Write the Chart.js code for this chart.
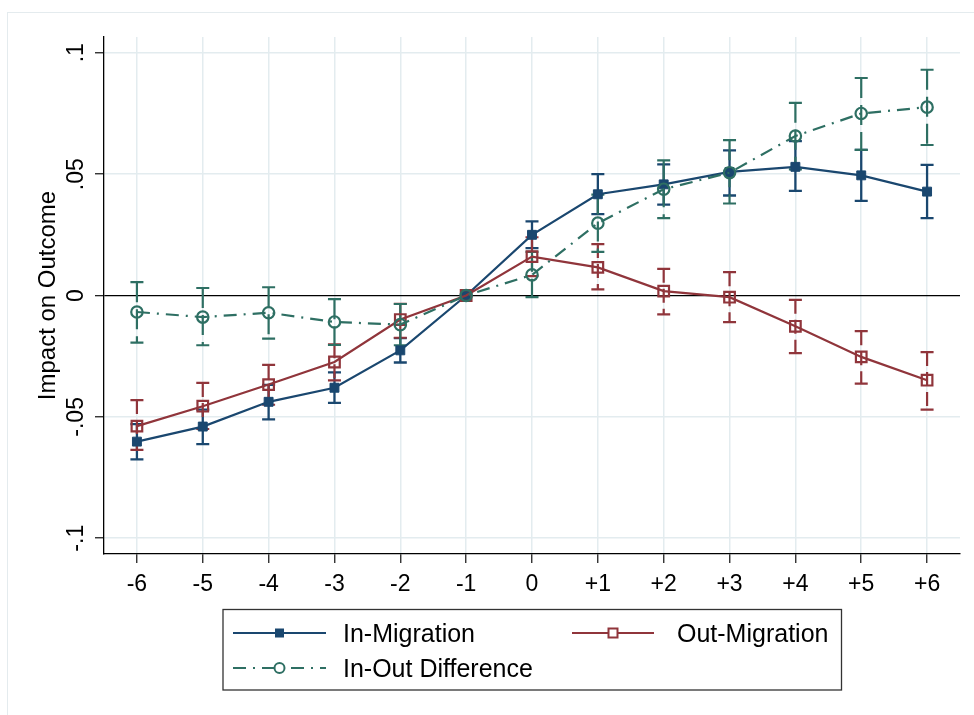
<!DOCTYPE html>
<html>
<head>
<meta charset="utf-8">
<script src="https://cdn.jsdelivr.net/npm/chart.js@4.4.1/dist/chart.umd.min.js"></script>
<style>
  html, body { margin: 0; padding: 0; background: #fff; }
  #wrap { width: 974px; height: 715px; position: relative; }
</style>
</head>
<body>
<div id="wrap"><canvas id="c" width="974" height="715"></canvas></div>
<script>
// ---- data ----
const periods = ['-6', '-5', '-4', '-3', '-2', '-1', '0', '+1', '+2', '+3', '+4', '+5', '+6'];

const inMig   = [-0.0602, -0.0540, -0.0438, -0.0380, -0.0226, 0, 0.0250, 0.0417, 0.0458, 0.0509, 0.0530, 0.0495, 0.0428];
const inMigLo = [-0.0675, -0.0612, -0.0510, -0.0442, -0.0276, 0, 0.0195, 0.0335, 0.0374, 0.0412, 0.0431, 0.0390, 0.0319];
const inMigHi = [-0.0530, -0.0470, -0.0368, -0.0317, -0.0176, 0, 0.0305, 0.0500, 0.0540, 0.0598, 0.0636, 0.0600, 0.0538];

const outMig   = [-0.0538, -0.0456, -0.0367, -0.0274, -0.0099, 0, 0.0160, 0.0116, 0.0018, -0.0007, -0.0127, -0.0253, -0.0349];
const outMigLo = [-0.0636, -0.0550, -0.0450, -0.0350, -0.0174, 0, 0.0080, 0.0025, -0.0078, -0.0110, -0.0237, -0.0363, -0.0470];
const outMigHi = [-0.0431, -0.0360, -0.0286, -0.0201, -0.0034, 0, 0.0240, 0.0212, 0.0110, 0.0096, -0.0018, -0.0147, -0.0233];

const diff   = [-0.0068, -0.0089, -0.0071, -0.0109, -0.0120, 0, 0.0085, 0.0298, 0.0438, 0.0506, 0.0657, 0.0750, 0.0776];
const diffLo = [-0.0194, -0.0205, -0.0178, -0.0204, -0.0205, 0, -0.0007, 0.0180, 0.0319, 0.0379, 0.0520, 0.0600, 0.0620];
const diffHi = [0.0055, 0.0031, 0.0034, -0.0015, -0.0035, 0, 0.0180, 0.0416, 0.0557, 0.0640, 0.0794, 0.0896, 0.0930];

const yTicks = [-0.1, -0.05, 0, 0.05, 0.1];
const yTickLabels = ['-.1', '-.05', '0', '.05', '.1'];
const yTitle = 'Impact on Outcome';
const seriesNames = ['In-Migration', 'Out-Migration', 'In-Out Difference'];

// ---- style ----
const FONT = "'Liberation Sans', Arial, Helvetica, sans-serif";
const NAVY = '#1a476f';
const MAROON = '#90353b';
const TEAL = '#2e6f63';
const GRID = '#e3ecef';
const DASHDOT = [13, 7, 2, 7];

const framePlugin = {
  id: 'frame',
  beforeDraw(chart) {
    const ctx = chart.ctx;
    ctx.save();
    ctx.fillStyle = '#fff';
    ctx.fillRect(0, 0, chart.width, chart.height);
    ctx.strokeStyle = '#e4ebee';
    ctx.lineWidth = 1;
    ctx.strokeRect(7.5, 12.5, 990, 740);
    ctx.restore();
  }
};

const errorBarPlugin = {
  id: 'errorBars',
  beforeDatasetsDraw(chart) {
    const { ctx, scales: { x, y } } = chart;
    const specs = [
      { lo: inMigLo, hi: inMigHi, color: NAVY, dash: [], width: 2.3 },
      { lo: outMigLo, hi: outMigHi, color: MAROON, dash: [14, 6], width: 2.2 },
      { lo: diffLo, hi: diffHi, color: TEAL, dash: [20, 7], width: 2.2 }
    ];
    ctx.save();
    specs.forEach(s => {
      ctx.strokeStyle = s.color;
      ctx.lineWidth = s.width;
      periods.forEach((p, i) => {
        if (s.lo[i] === s.hi[i]) return;
        const px = x.getPixelForValue(i);
        const yt = y.getPixelForValue(s.hi[i]);
        const yb = y.getPixelForValue(s.lo[i]);
        ctx.setLineDash(s.dash);
        ctx.beginPath();
        ctx.moveTo(px, yt);
        ctx.lineTo(px, yb);
        ctx.stroke();
        ctx.setLineDash([]);
        ctx.beginPath();
        ctx.moveTo(px - 6.5, yt); ctx.lineTo(px + 6.5, yt);
        ctx.moveTo(px - 6.5, yb); ctx.lineTo(px + 6.5, yb);
        ctx.stroke();
      });
    });
    ctx.restore();
  }
};

const yTextPlugin = {
  id: 'yText',
  afterDraw(chart) {
    const { ctx, scales: { y }, chartArea } = chart;
    ctx.save();
    ctx.fillStyle = '#000';
    ctx.textAlign = 'center';
    ctx.textBaseline = 'alphabetic';
    ctx.font = '23px ' + FONT;
    yTicks.forEach((v, i) => {
      const py = y.getPixelForValue(v);
      ctx.save();
      ctx.translate(83, py);
      ctx.rotate(-Math.PI / 2);
      ctx.fillText(yTickLabels[i], 0, 0);
      ctx.restore();
    });
    ctx.font = '24px ' + FONT;
    ctx.translate(55, (chartArea.top + chartArea.bottom) / 2);
    ctx.rotate(-Math.PI / 2);
    ctx.fillText(yTitle, 0, 0);
    ctx.restore();
  }
};

function drawMarker(ctx, kind, color, x, y) {
  ctx.save();
  ctx.setLineDash([]);
  if (kind === 'fsq') {
    ctx.fillStyle = color;
    ctx.fillRect(x - 4.5, y - 4.5, 9, 9);
  } else if (kind === 'osq') {
    ctx.strokeStyle = color; ctx.lineWidth = 2;
    ctx.fillStyle = '#fff';
    ctx.fillRect(x - 4.5, y - 4.5, 9, 9);
    ctx.strokeRect(x - 4.5, y - 4.5, 9, 9);
  } else {
    ctx.strokeStyle = color; ctx.lineWidth = 2;
    ctx.fillStyle = '#fff';
    ctx.beginPath(); ctx.arc(x, y, 5, 0, Math.PI * 2); ctx.fill(); ctx.stroke();
  }
  ctx.restore();
}

const legendPlugin = {
  id: 'boxLegend',
  afterDraw(chart) {
    const ctx = chart.ctx;
    ctx.save();
    ctx.strokeStyle = '#333';
    ctx.lineWidth = 1.3;
    ctx.strokeRect(223, 609.5, 618.5, 80.5);
    const items = [
      { name: seriesNames[0], color: NAVY, dash: [], kind: 'fsq', x0: 233, x1: 326, tx: 343, y: 633 },
      { name: seriesNames[1], color: MAROON, dash: [], kind: 'osq', x0: 572, x1: 654, tx: 677, y: 633 },
      { name: seriesNames[2], color: TEAL, dash: DASHDOT, kind: 'oc', x0: 233, x1: 326, tx: 343, y: 668 }
    ];
    items.forEach(it => {
      ctx.strokeStyle = it.color;
      ctx.lineWidth = 2;
      ctx.setLineDash(it.dash);
      ctx.beginPath(); ctx.moveTo(it.x0, it.y); ctx.lineTo(it.x1, it.y); ctx.stroke();
      ctx.setLineDash([]);
      drawMarker(ctx, it.kind, it.color, (it.x0 + it.x1) / 2, it.y);
      ctx.fillStyle = '#000';
      ctx.font = '25px ' + FONT;
      ctx.textAlign = 'left';
      ctx.textBaseline = 'alphabetic';
      ctx.fillText(it.name, it.tx, it.y + 9);
    });
    ctx.restore();
  }
};

new Chart(document.getElementById('c'), {
  type: 'line',
  data: {
    labels: periods,
    datasets: [
      {
        label: seriesNames[0], data: inMig, order: 2,
        borderColor: NAVY, borderWidth: 2.2, tension: 0,
        pointStyle: 'rect', pointRadius: 6.3, pointBorderWidth: 1,
        pointBackgroundColor: NAVY, pointBorderColor: NAVY
      },
      {
        label: seriesNames[1], data: outMig, order: 1,
        borderColor: MAROON, borderWidth: 2.2, tension: 0,
        pointStyle: 'rect', pointRadius: 7.5, pointBorderWidth: 2.2,
        pointBackgroundColor: 'rgba(0,0,0,0)', pointBorderColor: MAROON
      },
      {
        label: seriesNames[2], data: diff, order: 0,
        borderColor: TEAL, borderWidth: 2.2, borderDash: DASHDOT, tension: 0,
        pointStyle: 'circle', pointRadius: 5.7, pointBorderWidth: 2.2,
        pointBackgroundColor: 'rgba(0,0,0,0)', pointBorderColor: TEAL
      }
    ]
  },
  options: {
    responsive: false,
    animation: false,
    devicePixelRatio: 1,
    layout: { padding: { left: 0, top: 37, right: 14, bottom: 0 } },
    plugins: { legend: { display: false }, tooltip: { enabled: false } },
    events: [],
    scales: {
      x: {
        type: 'category',
        offset: true,
        afterFit(scale) { scale.height = 161; },
        border: { display: true, color: '#000', width: 1.3 },
        grid: {
          display: true, drawOnChartArea: true, offset: false,
          color: GRID, lineWidth: 1.5,
          drawTicks: true, tickLength: 9, tickColor: '#222', tickWidth: 1.3
        },
        ticks: {
          color: '#000', font: { family: FONT, size: 23 }, padding: 8,
          maxRotation: 0, minRotation: 0, autoSkip: false
        }
      },
      y: {
        type: 'linear',
        min: -0.1065, max: 0.1065,
        afterFit(scale) { scale.width = 104; },
        afterBuildTicks(scale) { scale.ticks = yTicks.map(v => ({ value: v })); },
        border: { display: true, color: '#000', width: 1.3 },
        grid: {
          display: true, drawOnChartArea: true,
          color: ctx => (ctx.tick && ctx.tick.value === 0 ? '#000' : GRID),
          lineWidth: ctx => (ctx.tick && ctx.tick.value === 0 ? 1.3 : 1.5),
          drawTicks: true, tickLength: 9, tickColor: '#222', tickWidth: 1.3
        },
        ticks: { display: false }
      }
    }
  },
  plugins: [framePlugin, errorBarPlugin, yTextPlugin, legendPlugin]
});
</script>
</body>
</html>
